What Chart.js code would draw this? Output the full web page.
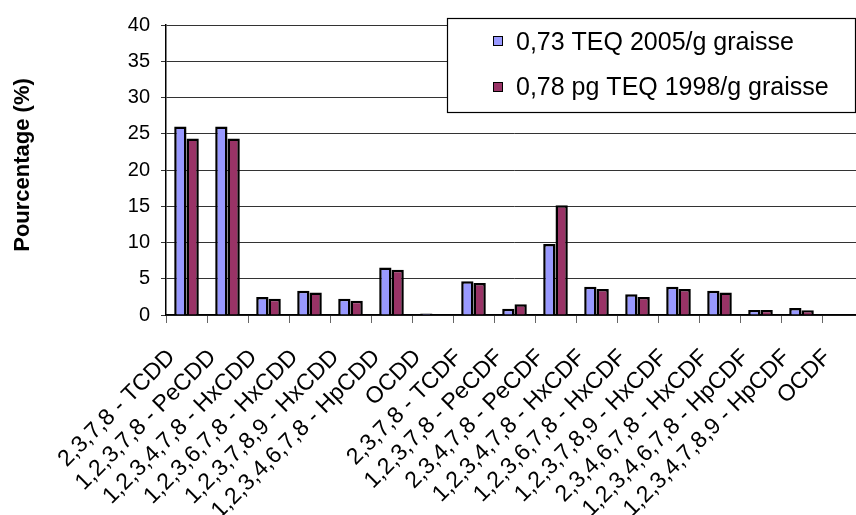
<!DOCTYPE html>
<html>
<head>
<meta charset="utf-8">
<script src="https://cdn.jsdelivr.net/npm/chart.js@4.4.0/dist/chart.umd.min.js"></script>
<style>
  html, body { margin: 0; padding: 0; background: #fff; overflow: hidden; width: 856px; height: 515px; }
  #c { position: absolute; left: 0; top: 0; }
</style>
</head>
<body>
<canvas id="c" width="870" height="515"></canvas>
<script>
const categories = [
  "2,3,7,8 - TCDD",
  "1,2,3,7,8 - PeCDD",
  "1,2,3,4,7,8 - HxCDD",
  "1,2,3,6,7,8 - HxCDD",
  "1,2,3,7,8,9 - HxCDD",
  "1,2,3,4,6,7,8 - HpCDD",
  "OCDD",
  "2,3,7,8 - TCDF",
  "1,2,3,7,8 - PeCDF",
  "2,3,4,7,8 - PeCDF",
  "1,2,3,4,7,8 - HxCDF",
  "1,2,3,6,7,8 - HxCDF",
  "1,2,3,7,8,9 - HxCDF",
  "2,3,4,6,7,8 - HxCDF",
  "1,2,3,4,6,7,8 - HpCDF",
  "1,2,3,4,7,8,9 - HpCDF",
  "OCDF"
];
const seriesNames = ["0,73 TEQ 2005/g graisse", "0,78 pg TEQ 1998/g graisse"];
const teq2005 = [26.0, 26.0, 2.5, 3.35, 2.25, 6.55, 0.2, 4.65, 0.85, 9.8, 3.9, 2.85, 3.9, 3.35, 0.7, 0.95, 0];
const teq1998 = [24.35, 24.35, 2.25, 3.1, 1.95, 6.25, 0, 4.4, 1.5, 15.15, 3.6, 2.5, 3.6, 3.1, 0.7, 0.65, 0];
const yTicks = [0, 5, 10, 15, 20, 25, 30, 35, 40];
const yTitle = "Pourcentage (%)";

const colors = ["#9999FF", "#993366"];
const FONT = '"Liberation Sans", Arial, sans-serif';

const legendPlugin = {
  id: 'boxLegend',
  afterDraw(chart) {
    const ctx = chart.ctx;
    ctx.save();
    // y-axis title
    ctx.save();
    ctx.translate(23, 165);
    ctx.rotate(-Math.PI / 2);
    ctx.fillStyle = '#000';
    ctx.font = 'bold 22px ' + FONT;
    ctx.textAlign = 'center';
    ctx.textBaseline = 'middle';
    ctx.fillText(yTitle, 0, 0);
    ctx.restore();
    // legend
    const bx = 447, by = 18, bw = 408, bh = 94;
    ctx.fillStyle = '#fff';
    ctx.fillRect(bx, by, bw, bh);
    ctx.strokeStyle = '#000';
    ctx.lineWidth = 1.2;
    ctx.strokeRect(bx + 0.5, by + 0.5, bw, bh);
    const rows = [{ sq: 36, base: 50 }, { sq: 82, base: 95 }];
    chart.data.datasets.forEach((ds, i) => {
      const r = rows[i];
      ctx.fillStyle = ds.backgroundColor;
      ctx.fillRect(493, r.sq, 10, 10);
      ctx.strokeStyle = '#000';
      ctx.lineWidth = 1;
      ctx.strokeRect(493.5, r.sq + 0.5, 9, 9);
      ctx.fillStyle = '#000';
      ctx.font = '25px ' + FONT;
      ctx.textAlign = 'left';
      ctx.textBaseline = 'alphabetic';
      ctx.fillText(ds.label, 516, r.base);
    });
    ctx.restore();
  }
};

new Chart(document.getElementById('c'), {
  type: 'bar',
  data: {
    labels: categories,
    datasets: [
      { label: seriesNames[0], data: teq2005, backgroundColor: colors[0], borderColor: '#000', borderWidth: 2.5, borderSkipped: 'bottom' },
      { label: seriesNames[1], data: teq1998, backgroundColor: colors[1], borderColor: '#000', borderWidth: 2.5, borderSkipped: 'bottom' }
    ]
  },
  options: {
    responsive: false,
    animation: false,
    devicePixelRatio: 1,
    layout: { padding: { top: 25, right: 7, left: 0, bottom: 0 } },
    plugins: { legend: { display: false }, tooltip: { enabled: false } },
    datasets: { bar: { categoryPercentage: 0.6, barPercentage: 1.0 } },
    scales: {
      x: {
        afterFit(scale) { scale.height = 200; scale.paddingLeft = 0; scale.paddingRight = 0; },
        grid: { display: true, drawOnChartArea: false, drawTicks: true, tickLength: 8, color: '#666', offset: true },
        border: { display: true, color: '#000', width: 1.5 },
        ticks: {
          autoSkip: false, maxRotation: 45, minRotation: 45,
          color: '#000', padding: 21, labelOffset: -15,
          font: { family: FONT, size: 23 }
        }
      },
      y: {
        min: 0, max: 40,
        afterFit(scale) { scale.width = 166; scale.paddingTop = 0; scale.paddingBottom = 0; },
        afterBuildTicks(scale) { scale.ticks = yTicks.map(v => ({ value: v })); },
        grid: { color: '#333', lineWidth: 1, drawTicks: true, tickLength: 5 },
        border: { display: true, color: '#000', width: 1.5 },
        ticks: {
          color: '#000', padding: 11,
          font: { family: FONT, size: 20 }
        },
        title: { display: false }
      }
    }
  },
  plugins: [legendPlugin]
});
</script>
</body>
</html>
